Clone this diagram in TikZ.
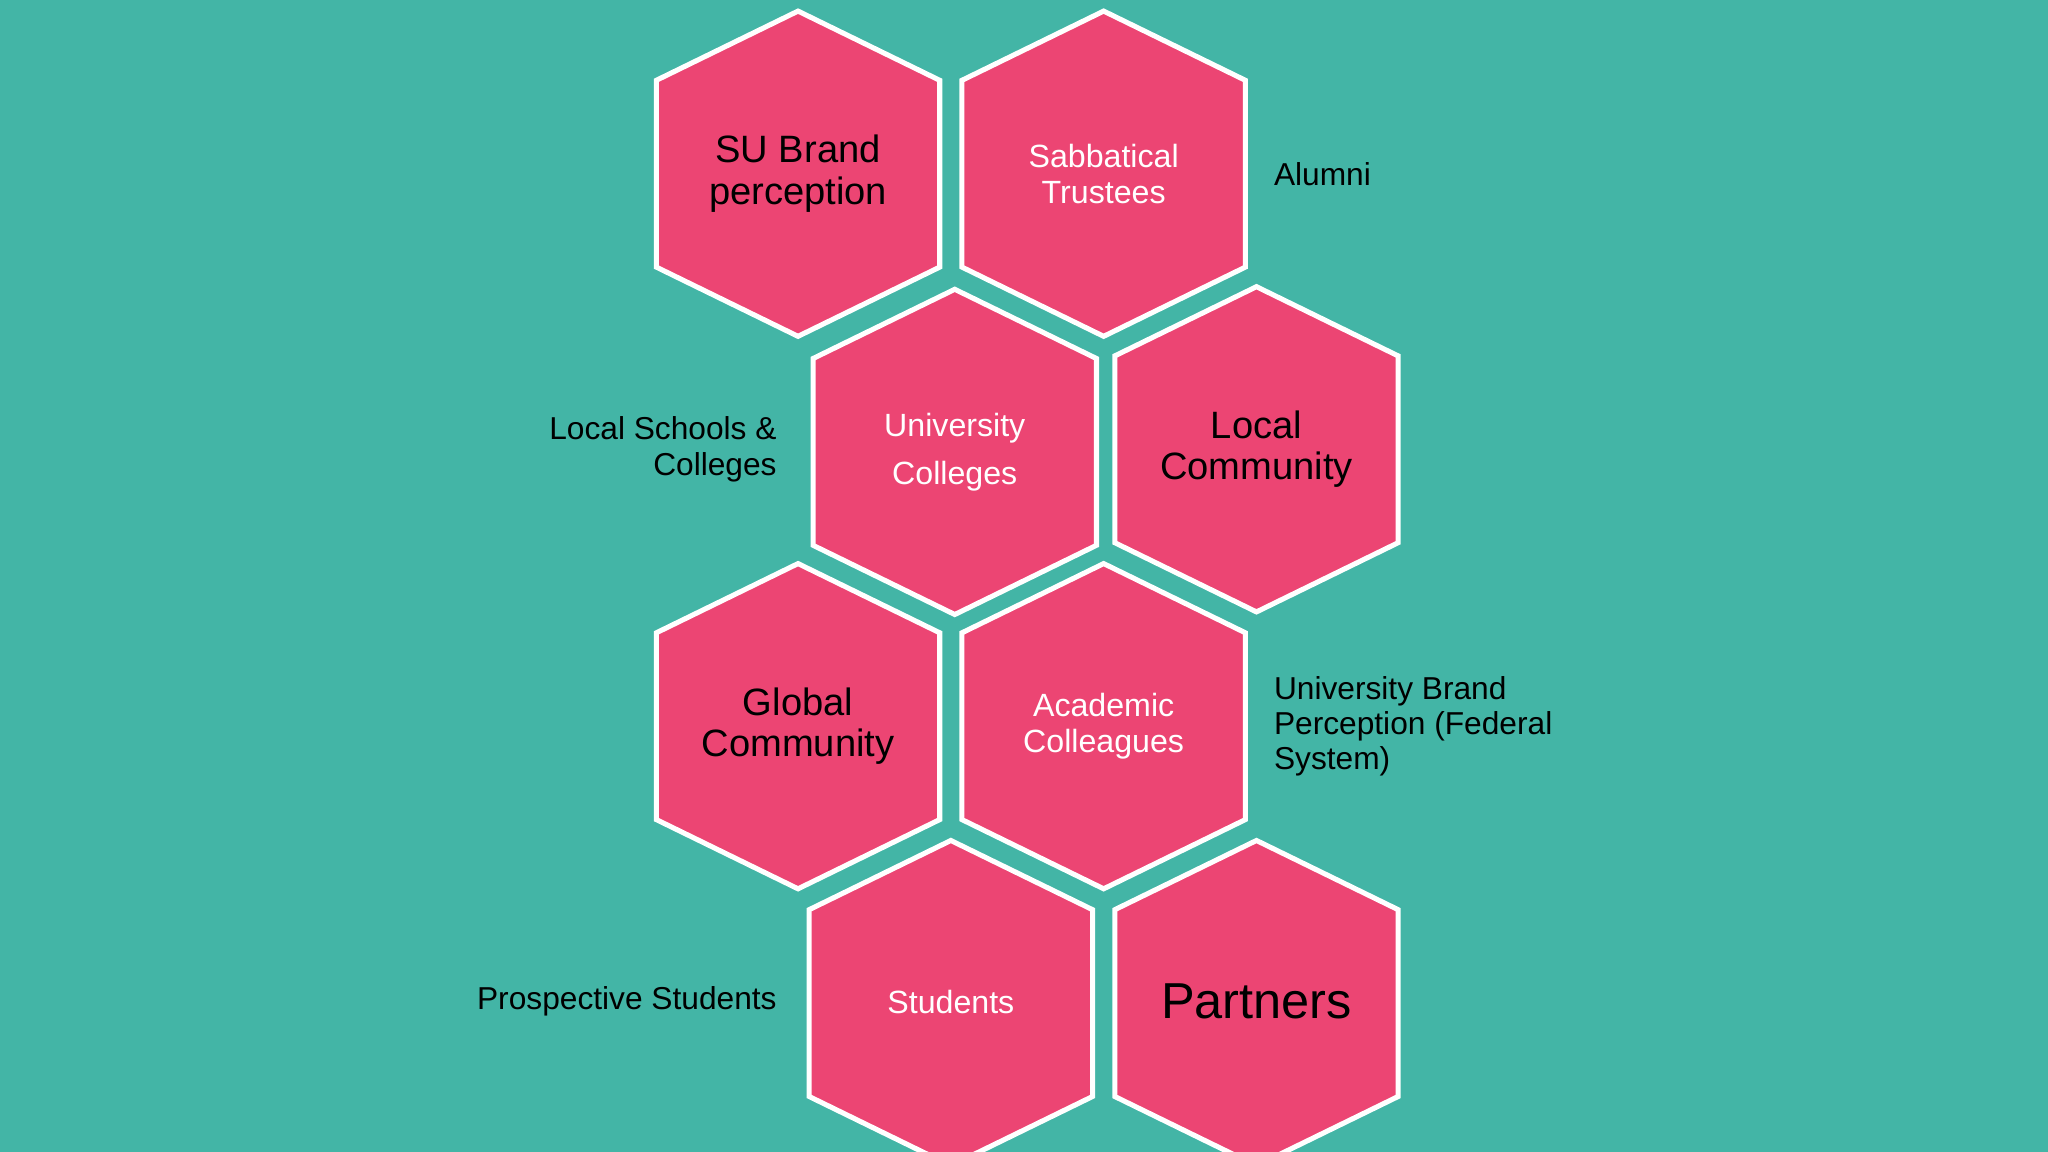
\documentclass[tikz,border=0pt]{standalone}
\usepackage{fontspec}
\setmainfont{Liberation Sans}
\definecolor{bg}{HTML}{43B5A6}
\definecolor{hexpink}{HTML}{EC4573}
\tikzset{
 hexfill/.style={fill=hexpink,draw=white,line width=1.1pt,line join=miter},
 wt/.style={text=white,align=center,font=\fontsize{7}{7.8}\selectfont},
 bt/.style={text=black,align=center,font=\fontsize{8.3}{9}\selectfont},
 lbl/.style={text=black,font=\fontsize{6.9}{7.7}\selectfont}
}
\newcommand{\hexshape}[2]{\draw[hexfill] (#1,#2-124.5) -- (#1+108.5,#2-71.5) -- (#1+108.5,#2+71.5) -- (#1,#2+124.5) -- (#1-108.5,#2+71.5) -- (#1-108.5,#2-71.5) -- cycle;}
\begin{document}
\begin{tikzpicture}[x=0.01cm,y=-0.01cm]
\fill[bg] (0,0) rectangle (1568,882);
\useasboundingbox (0,0) rectangle (1568,882);
\hexshape{611}{133}
\hexshape{845}{133}
\hexshape{731}{346}
\hexshape{962}{344}
\hexshape{611}{556}
\hexshape{845}{556}
\hexshape{728}{768}
\hexshape{962}{768}
\node[bt] (su) at (611,133) {SU Brand\\perception};
\node[wt] (sab) at (845,133) {Sabbatical\\Trustees};
\node[wt,font=\fontsize{7}{10.5}\selectfont] (uc) at (731,346) {University\\Colleges};
\node[bt] (lc) at (962,344) {Local\\Community};
\node[bt] (gc) at (611,556) {Global\\Community};
\node[wt] (ac) at (845,556) {Academic\\Colleagues};
\node[wt] (st) at (728,767) {Students};
\node[bt,font=\fontsize{11}{12}\selectfont] (pa) at (962,767) {Partners};
\node[lbl,anchor=west] (al) at (963,133) {Alumni};
\node[lbl,anchor=east,align=right] (ls) at (607,344) {Local Schools \&\\Colleges};
\node[lbl,anchor=west,align=left] (ub) at (963,556) {University Brand\\Perception (Federal\\System)};
\node[lbl,anchor=east] (ps) at (607,767) {Prospective Students};
\end{tikzpicture}
\end{document}
